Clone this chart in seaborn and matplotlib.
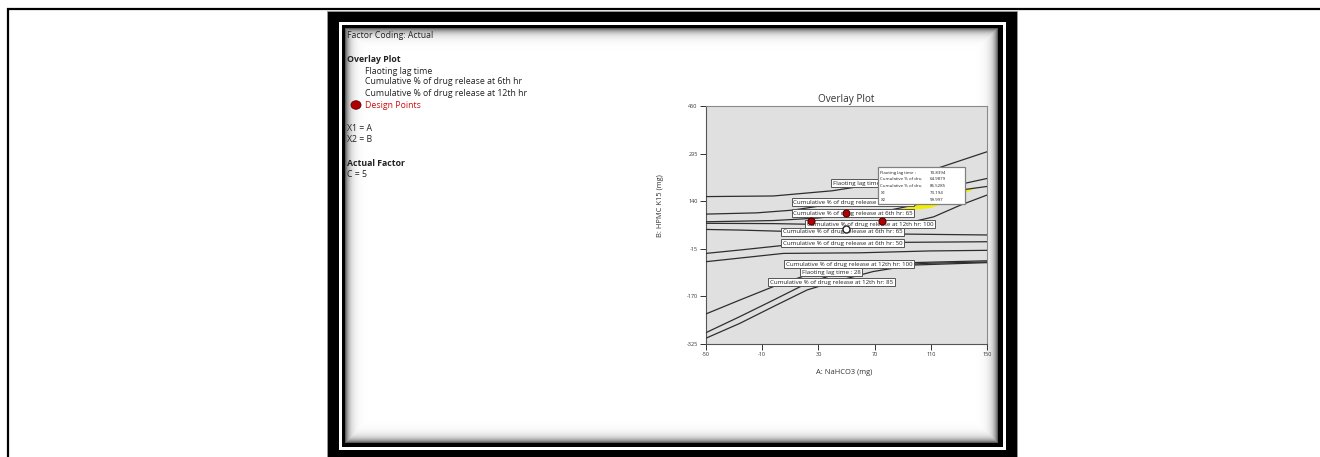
import matplotlib
matplotlib.use("Agg")
import numpy as np
import matplotlib.pyplot as plt
from matplotlib.patches import Rectangle, Ellipse
import seaborn as sns

# ---- contour traces (A: NaHCO3 mg, B: HPMC K15 mg) ----
lag_hi_x = [-50, -2, 40, 69, 93, 116.5, 150]
lag_hi_y = [155, 157, 174, 195, 218, 250, 301]

r6_hi_x = [-50, -14, 12, 36, 57, 73, 93, 116, 150]
r6_hi_y = [98, 102, 111, 128, 138, 146, 160, 180, 214]

r6_65a_x = [-50, -2, 29, 50, 69, 83, 101, 122, 134, 150]
r6_65a_y = [73, 77, 85, 95, 104, 113, 130, 158, 178, 188]

r12_100a_x = [-50, -2, 22, 69, 97, 112, 131, 150]
r12_100a_y = [68, 67, 65, 66, 73, 89, 127, 160]

r6_65b_x = [-50, -26, 5, 45, 90, 150]
r6_65b_y = [48, 46, 42, 39, 33, 30]

r6_50_x = [-50, -26, 5, 45, 90, 150]
r6_50_y = [-30, -19, -4, 2, 6, 8]

mid_x = [-50, 5, 60, 109, 150]
mid_y = [-57, -30, -28, -22, -20]

r12_100b_x = [-50, -26, -2, 22, 50, 97, 150]
r12_100b_y = [-227, -182, -138, -100, -71, -60, -54]

lag_28_x = [-50, -26, -2, 22, 45, 69, 109, 150]
lag_28_y = [-288, -236, -182, -127, -93, -71, -62, -58]

r12_85_x = [-50, -26, -2, 22, 40, 69, 97, 150]
r12_85_y = [-306, -258, -203, -149, -124, -89, -68, -60]

contours = [
    (lag_hi_x, lag_hi_y), (r6_hi_x, r6_hi_y), (r6_65a_x, r6_65a_y),
    (r12_100a_x, r12_100a_y), (r6_65b_x, r6_65b_y), (r6_50_x, r6_50_y),
    (mid_x, mid_y), (r12_100b_x, r12_100b_y), (lag_28_x, lag_28_y),
    (r12_85_x, r12_85_y),
]

# feasible (yellow) window
win_x = [83, 92, 101, 110, 122, 134, 143]
win_hi = [113, 120, 130, 140, 158, 178, 187]
win_lo = [113, 113, 115, 120, 140, 168, 187]

# contour flags
flag_x = [40.1, 12.1, 12.1, 21.6, 4.6, 4.6, 6.7, 18.1, -4.5]
flag_y = [198, 136, 100.5, 64.7, 40.8, 2.8, -64.5, -91.6, -124.2]
flag_text = [
    "Flaoting lag time : 10",
    "Cumulative % of drug release at 6th hr: 80",
    "Cumulative % of drug release at 6th hr: 65",
    "Cumulative % of drug release at 12th hr: 100",
    "Cumulative % of drug release at 6th hr: 65",
    "Cumulative % of drug release at 6th hr: 50",
    "Cumulative % of drug release at 12th hr: 100",
    "Flaoting lag time : 28",
    "Cumulative % of drug release at 12th hr: 85",
]

# design points
design_x = [25, 50, 75]
design_y = [75, 100, 75]
center_x = [50]
center_y = [50]

# selected point
sel_names = ["Flaoting lag time :", "Cumulative % of dru", "Cumulative % of dru", "X1", "X2"]
sel_values = ["10.8394", "64.9879", "85.5285", "73.194", "99.997"]
sel_x1 = 73.194
sel_x2 = 99.997

x_ticks = [-50, -10, 30, 70, 110, 150]
y_ticks = [-325, -170, -15, 140, 295, 450]

sns.set_theme(style="white")
plt.rcParams['font.family'] = ['Open Sans', 'DejaVu Sans']

W, H = 1320, 457
fig = plt.figure(figsize=(W / 100, H / 100), dpi=100)
fig.patch.set_facecolor("white")

# ---- page / frame layer in pixel units ----
bg = fig.add_axes([0, 0, 1, 1])
bg.set_xlim(0, W)
bg.set_ylim(H, 0)
bg.axis("off")

bg.plot([7, W], [9, 9], color="black", lw=1.6, solid_capstyle="butt")
bg.plot([8, 8], [8, H], color="black", lw=1.6, solid_capstyle="butt")

bg.add_patch(Rectangle((327, 11), 690, 446, fc="black", ec="#9a9a9a", lw=0.6))
bg.add_patch(Rectangle((339, 22), 667, 428, fc="white", ec="none"))
bg.add_patch(Rectangle((342, 25), 661, 422, fc="black", ec="none"))

# inner panel with soft shadow at the edges
px0, px1, py0, py1 = 345, 998, 28, 443
nx, ny = px1 - px0, py1 - py0
xx = np.arange(nx)[None, :] + 0.5
yy = np.arange(ny)[:, None] + 0.5
d = np.minimum(np.minimum(xx, nx - xx), np.minimum(yy, ny - yy))
shade = 1 - 0.72 * np.exp(-d / 4.2)
bg.imshow(shade, cmap="gray", vmin=0, vmax=1, extent=(px0, px1, py1, py0),
          aspect="auto", interpolation="bilinear", zorder=1)

txt_kw = dict(fontsize=6.3, va="center", ha="left", color="#222222", zorder=3)
bg.text(347, 35.3, "Factor Coding: Actual", **txt_kw)
bg.text(347, 59, "Overlay Plot", fontweight="bold", **txt_kw)
bg.text(365, 71, "Flaoting lag time", **txt_kw)
bg.text(365, 82, "Cumulative % of drug release at 6th hr", **txt_kw)
bg.text(365, 93.5, "Cumulative % of drug release at 12th hr", **txt_kw)
bg.add_patch(Ellipse((356, 105), 10, 8.5, fc="#b00000", ec="#5a0000", lw=0.6, zorder=3))
bg.text(365, 105, "Design Points", **{**txt_kw, "color": "#d01010"})
bg.text(347, 128.3, "X1 = A", **txt_kw)
bg.text(347, 140, "X2 = B", **txt_kw)
bg.text(347, 163.3, "Actual Factor", fontweight="bold", **txt_kw)
bg.text(347, 174.3, "C = 5", **txt_kw)

# ---- overlay plot ----
ax = fig.add_axes([706 / W, (H - 344) / H, 281 / W, 238 / H])
ax.set_facecolor("#e0e0e0")

ax.fill_between(win_x, win_lo, win_hi, color="#f2ee00", lw=0, zorder=2)

for cx, cy in contours:
    sns.lineplot(x=cx, y=cy, ax=ax, color="#2e2e2e", lw=0.9, sort=False,
                 estimator=None, legend=False, zorder=3)

for fx, fy, ft in zip(flag_x, flag_y, flag_text):
    ax.text(fx, fy, ft, fontsize=4.4, ha="left", va="center", color="#222222",
            zorder=4, bbox=dict(boxstyle="square,pad=0.25", fc="white",
                                ec="#555555", lw=0.7))

sns.scatterplot(x=design_x, y=design_y, ax=ax, color="#b00000",
                edgecolor="#4a0000", linewidth=0.7, s=26, zorder=5, legend=False)
sns.scatterplot(x=center_x, y=center_y, ax=ax, color="white",
                edgecolor="#222222", linewidth=1.0, s=26, zorder=5, legend=False)

# selected point flag
ax.add_patch(Rectangle((72.6, 130), 61.4, 120.4, fc="white", ec="#808080",
                       lw=0.9, zorder=6))
row_y = [232.8, 211.2, 189.4, 165.2, 143.9]
for nm, val, ry in zip(sel_names, sel_values, row_y):
    ax.text(sel_x1 + 1.0, ry, nm, fontsize=3.2, ha="left", va="center",
            color="#222222", zorder=7)
    ax.text(sel_x1 + 36.0, ry, val, fontsize=3.2, ha="left", va="center",
            color="#222222", zorder=7)

ax.set_xlim(-50, 150)
ax.set_ylim(-325, 450)
ax.set_xticks(x_ticks)
ax.set_yticks(y_ticks)
ax.set_xticklabels([str(v) for v in x_ticks])
ax.set_yticklabels([str(v) for v in y_ticks])
ax.tick_params(bottom=True, left=True, direction="out", length=4, width=0.7,
               labelsize=4, colors="#333333", pad=2)
for side, sp in ax.spines.items():
    sp.set_visible(True)
    sp.set_linewidth(0.8)
    sp.set_color("#555555" if side in ("left", "bottom") else "#8a8a8a")

ax.set_title("Overlay Plot", fontsize=7.2, color="#333333", pad=3)
ax.set_xlabel("A: NaHCO3 (mg)", fontsize=5.4, color="#333333")
ax.xaxis.set_label_coords(0.493, -0.105)
ax.set_ylabel("B: HPMC K15 (mg)", fontsize=5.4, color="#333333")
ax.yaxis.set_label_coords(-0.149, 0.58)

fig.savefig("out.png", dpi=100, facecolor="white")
